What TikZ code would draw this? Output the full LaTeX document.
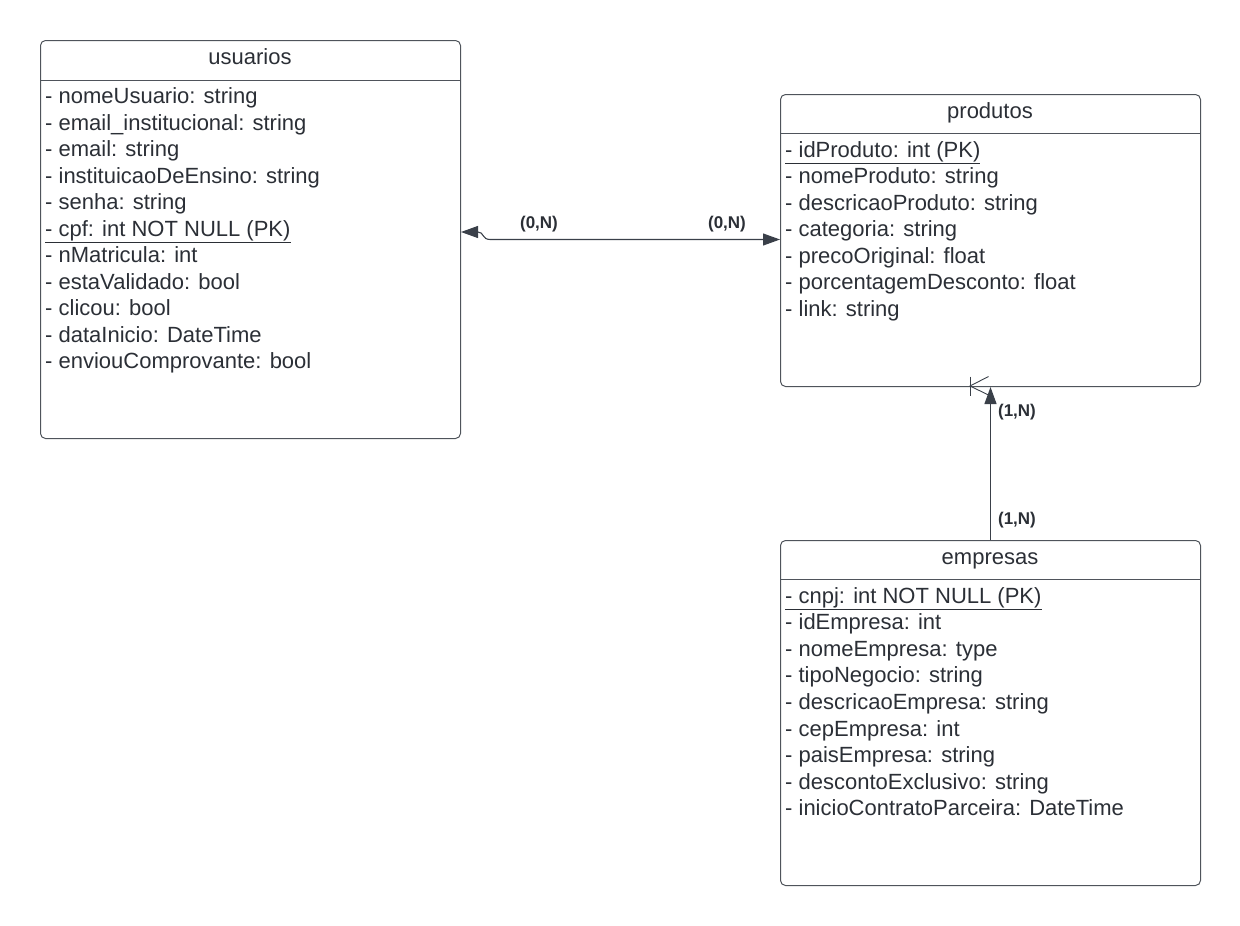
\documentclass[tikz,border=0pt]{standalone}
\usepackage{fontspec}
\setmainfont{Liberation Sans}
\usetikzlibrary{arrows.meta}
\definecolor{ink}{HTML}{2B2F36}
\definecolor{frame}{HTML}{4F545B}
\definecolor{wire}{HTML}{3A4049}
\newcommand{\pkline}[1]{\underline{#1}}
\begin{document}
\begin{tikzpicture}[x=1pt,y=-1pt,
  entity/.style={draw=frame, line width=1pt, rounded corners=5pt, inner sep=0pt, anchor=north west},
  divider/.style={draw=frame, line width=1pt},
  title/.style={anchor=base, inner sep=0pt, text=ink, font=\fontsize{22}{26}\selectfont},
  row/.style={anchor=base west, inner sep=0pt, text=ink, font=\fontsize{22}{26}\selectfont},
  card/.style={inner sep=0pt, text=ink, font=\bfseries\fontsize{17}{20}\selectfont},
  conn/.style={draw=wire, line width=1.1pt},
  tip/.tip={Triangle[length=17pt, width=12pt, fill=wire]}
]
\useasboundingbox (0,0) rectangle (1240,926);

% ---- entity boxes ----
\node[entity, minimum width=420pt, minimum height=398pt] (usuarios) at (40,40) {};
\node[entity, minimum width=420pt, minimum height=292pt] (produtos) at (780,94) {};
\node[entity, minimum width=420pt, minimum height=345pt] (empresas) at (780,540) {};

\draw[divider] (40,80) -- (460,80);
\draw[divider] (780,133) -- (1200,133);
\draw[divider] (780,579) -- (1200,579);

\node[title] (tu) at (250,64) {usuarios};
\node[title] (tp) at (990,118) {produtos};
\node[title] (te) at (990,564) {empresas};

% ---- attributes: usuarios ----
\foreach \t [count=\i] in {
  {- nomeUsuario: string},
  {- email\_institucional: string},
  {- email: string},
  {- instituicaoDeEnsino: string},
  {- senha: string},
  {\pkline{- cpf: int NOT NULL (PK)}},
  {- nMatricula: int},
  {- estaValidado: bool},
  {- clicou: bool},
  {- dataInicio: DateTime},
  {- enviouComprovante: bool}}
  \node[row] (u\i) at (45,{103.5+26.5*(\i-1)}) {\t};

% ---- attributes: produtos ----
\foreach \t [count=\i] in {
  {\pkline{- idProduto: int (PK)}},
  {- nomeProduto: string},
  {- descricaoProduto: string},
  {- categoria: string},
  {- precoOriginal: float},
  {- porcentagemDesconto: float},
  {- link: string}}
  \node[row] (p\i) at (785,{157+26.5*(\i-1)}) {\t};

% ---- attributes: empresas ----
\foreach \t [count=\i] in {
  {\pkline{- cnpj: int NOT NULL (PK)}},
  {- idEmpresa: int},
  {- nomeEmpresa: type},
  {- tipoNegocio: string},
  {- descricaoEmpresa: string},
  {- cepEmpresa: int},
  {- paisEmpresa: string},
  {- descontoExclusivo: string},
  {- inicioContratoParceira: DateTime}}
  \node[row] (e\i) at (785,{603+26.6*(\i-1)}) {\t};

% ---- relationships ----
\coordinate (uEnd) at (usuarios.east |- 0,232);
\draw[conn, {tip}-{tip}] (uEnd) -- (478,232)
  .. controls (484,232) and (482,239.5) .. (490,239.5) -- (produtos.west |- 0,239.5);

\draw[conn, -{tip}] (empresas.north) -- (produtos.south);
\coordinate (cf) at (970,386);
\draw[conn, line width=0.9pt] (970,376.5) -- (970,396);
\draw[conn, line width=0.9pt] (988.5,376.5) -- (cf) -- (988.5,395);

\node[card] (l1) at (539,224) {(0,N)};
\node[card] (l2) at (727,224) {(0,N)};
\node[card] (l3) at (1017,412) {(1,N)};
\node[card] (l4) at (1017,520) {(1,N)};
\end{tikzpicture}
\end{document}
